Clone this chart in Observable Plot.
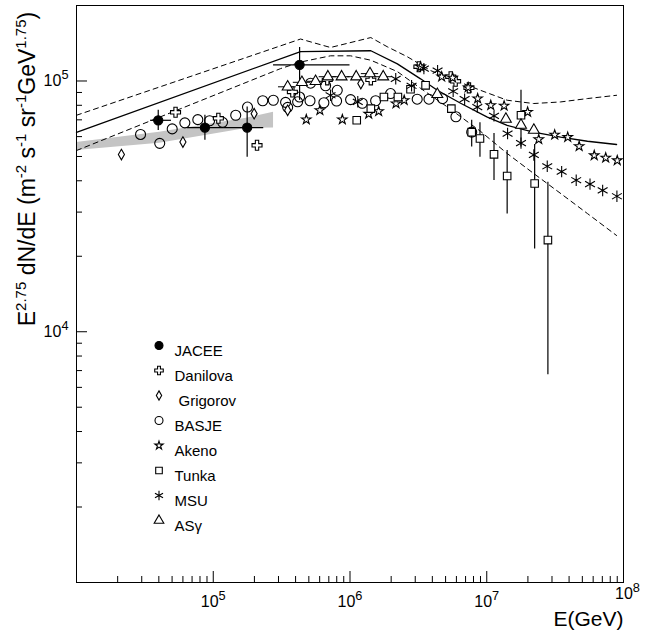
<!DOCTYPE html>
<html><head><meta charset="utf-8">
<script src="https://cdn.jsdelivr.net/npm/d3@7"></script>
<script src="https://cdn.jsdelivr.net/npm/@observablehq/plot@0.6"></script>
<style>
body{margin:0;background:#fff;}
#chart{position:relative;width:652px;height:633px;}
</style></head><body><div id="chart"></div>
<script>
// ---------- DATA (E in GeV, value = E^2.75 dN/dE) ----------
const jaceeE   = [3.96e4, 8.69e4, 1.77e5, 4.28e5];
const jaceeV   = [6.97e4, 6.52e4, 6.52e4, 1.16e5];
const jaceeVlo = [6.35e4, 5.8e4, 4.97e4, 8.37e4];
const jaceeVhi = [7.64e4, 7.3e4, 7.87e4, 1.36e5];
const jaceeElo = [3.48e4, 6.46e4, 1.2e5, 2.76e5];
const jaceeEhi = [4.95e4, 1.2e5, 2.34e5, 1.0e6];

const danilovaE = [5.3e4, 1.09e5, 2.09e5, 3.79e5, 6.82e5, 1.42e6, 3.19e6, 5.45e6, 5.92e6, 7.41e6];
const danilovaV = [7.5e4, 7.1e4, 5.54e4, 9.04e4, 1.01e5, 1.01e5, 1.14e5, 1.04e5, 9.97e4, 9.39e4];

const grigorovE = [2.13e4, 6.0e4, 1.99e5, 3.5e5, 1.2e6];
const grigorovV = [5.09e4, 5.71e4, 7.41e4, 7.64e4, 9.77e4];

const basjeE = [2.94e4, 4.06e4, 5.01e4, 6.2e4, 7.71e4, 9.4e4, 1.17e5, 1.46e5, 1.78e5, 2.3e5, 2.75e5, 3.38e5, 3.5e5, 4.14e5, 4.28e5, 5.1e5, 5.15e5, 6.44e5, 6.63e5, 7.98e5, 8.07e5, 1.01e6, 1.23e6, 1.54e6, 1.98e6, 3.1e6, 3.78e6, 4.75e6, 5.95e6, 7.76e6];
const basjeV = [6.12e4, 5.64e4, 6.44e4, 6.81e4, 7.01e4, 6.94e4, 6.84e4, 7.3e4, 7.87e4, 8.34e4, 8.38e4, 8.22e4, 7.85e4, 8.26e4, 8.63e4, 8.34e4, 9.8e4, 8.19e4, 9.57e4, 8.32e4, 9.18e4, 8.43e4, 8.15e4, 8.34e4, 8.91e4, 8.46e4, 8.46e4, 8.5e4, 7.2e4, 6.25e4];

const akenoE = [4.79e5, 6.02e5, 8.79e5, 1.37e6, 1.62e6, 2.17e6, 2.49e6, 3.28e6, 4.68e6, 5.63e6, 7.31e6, 8.58e6, 1.07e7, 1.34e7, 1.99e7, 2.4e7, 3.14e7, 3.91e7, 4.74e7, 6.11e7, 7.41e7, 9.0e7];
const akenoV = [7.02e4, 7.64e4, 7.02e4, 7.39e4, 7.57e4, 8.13e4, 8.38e4, 1.14e5, 1.04e5, 1.03e5, 9.42e4, 8.51e4, 8.0e4, 7.96e4, 7.52e4, 5.85e4, 6.1e4, 5.97e4, 5.49e4, 5.05e4, 4.94e4, 4.82e4];

const tunkaE  = [1.12e6, 1.42e6, 1.77e6, 2.24e6, 2.77e6, 3.57e6, 5.51e6, 7.76e6, 8.92e6, 1.13e7, 1.41e7, 1.78e7, 2.24e7, 2.8e7];
const tunkaV  = [6.97e4, 7.76e4, 8.63e4, 8.63e4, 9.27e4, 9.61e4, 7.76e4, 6.25e4, 5.9e4, 5.1e4, 4.18e4, 7.3e4, 3.9e4, 2.32e4];
const tunkaLo = [null, null, null, null, null, null, null, 5.45e4, 4.97e4, 4.01e4, 2.95e4, 5.45e4, 2.14e4, 6.73e3];
const tunkaHi = [null, null, null, null, null, null, null, 6.97e4, 6.81e4, 6.17e4, 5.28e4, 9.18e4, 5.58e4, 3.95e4];

const msuE = [7.21e5, 1.14e6, 2.16e6, 2.82e6, 3.47e6, 4.37e6, 5.68e6, 6.89e6, 8.53e6, 1.13e7, 1.42e7, 1.78e7, 2.21e7, 2.77e7, 3.53e7, 4.51e7, 5.69e7, 7.04e7, 8.95e7];
const msuV = [8.77e4, 8.26e4, 1.02e5, 9.57e4, 1.12e5, 1.1e5, 9.1e4, 8.46e4, 7.87e4, 7.26e4, 6.17e4, 5.65e4, 5.07e4, 4.57e4, 4.35e4, 4.02e4, 3.88e4, 3.66e4, 3.47e4];

const asgE   = [3.5e5, 4.45e5, 5.6e5, 6.89e5, 8.68e5, 1.11e6, 1.4e6, 1.75e6, 4.35e6, 1.38e7, 1.78e7, 2.21e7];
const asgV   = [9.48e4, 9.88e4, 9.97e4, 1.04e5, 1.04e5, 1.04e5, 1.07e5, 1.04e5, 8.85e4, 7.05e4, 6.67e4, 6.37e4];
const asgElo = [3.0e5, 3.85e5, 4.85e5, 5.95e5, 7.5e5, 9.6e5, 1.21e6, 1.51e6, null, null, null, null];
const asgEhi = [4.05e5, 5.15e5, 6.45e5, 7.95e5, 1.0e6, 1.28e6, 1.62e6, 2.02e6, null, null, null, null];

// model curves
const solidE = [1e4, 4.35e5, 1.42e6, 2.22e6, 3.28e6, 4.35e6, 6.44e6, 1.01e7, 1.41e7, 2.2e7, 3.47e7, 5.45e7, 8.9e7];
const solidV = [6.24e4, 1.31e5, 1.32e5, 1.17e5, 1.02e5, 9.18e4, 8.15e4, 7.18e4, 6.65e4, 6.25e4, 5.97e4, 5.75e4, 5.58e4];
const upperE = [1e4, 4.35e5, 7.2e5, 1.42e6, 1.87e6, 2.62e6, 3.89e6, 5.76e6, 9.0e6, 1.41e7, 2.2e7, 3.47e7, 5.45e7, 8.9e7];
const upperV = [7.3e4, 1.47e5, 1.36e5, 1.49e5, 1.37e5, 1.25e5, 1.10e5, 1.01e5, 9.18e4, 8.38e4, 8.13e4, 8.25e4, 8.51e4, 8.77e4];
const lowerE = [1e4, 3.1e5, 4.35e5, 7.2e5, 1.01e6, 1.42e6, 2.22e6, 3.28e6, 5.15e6, 9.0e6, 1.41e7, 2.2e7, 3.47e7, 5.45e7, 8.9e7];
const lowerV = [5.28e4, 1.12e5, 1.19e5, 1.26e5, 1.26e5, 1.21e5, 1.09e5, 9.35e4, 7.88e4, 6.3e4, 5.14e4, 4.28e4, 3.56e4, 2.96e4, 2.42e4];

// shaded band (direct measurements)
const bandE  = [1e4, 4.05e4, 1.75e5, 2.76e5];
const bandLo = [5.28e4, 5.64e4, 6.47e4, 6.5e4];
const bandHi = [5.69e4, 6.24e4, 7.1e4, 7.5e4];

// axes
const xLabelTicks = [1e5, 1e6, 1e7];
const xLastLabelTick = [1e8];
const yLabelTicks = [1e4, 1e5];
const xMajorTicks = [1e4, 1e5, 1e6, 1e7, 1e8];
const yMajorTicks = [1e3, 1e4, 1e5];
const xDecades = [4, 5, 6, 7];
const yDecades = [3, 4, 5];
const minorMult = [2, 3, 4, 5, 6, 7, 8, 9];

const seriesNames = ["JACEE", "Danilova", "Grigorov", "BASJE", "Akeno", "Tunka", "MSU", "ASγ"];

// ---------- BUILD ----------
const pts = (E, V) => E.map((e, i) => ({e, v: V[i]}));
const xMinorTicks = xDecades.flatMap(k => minorMult.map(m => m * 10 ** k));
const yMinorTicks = yDecades.flatMap(k => minorMult.map(m => m * 10 ** k)).filter(v => v <= 2e5);

const expFmt = d => "10^" + Math.round(Math.log10(d));

const jacee = jaceeE.map((e, i) => ({e, v: jaceeV[i], lo: jaceeVlo[i], hi: jaceeVhi[i], elo: jaceeElo[i], ehi: jaceeEhi[i]}));
const tunka = tunkaE.map((e, i) => ({e, v: tunkaV[i], lo: tunkaLo[i], hi: tunkaHi[i]}));
const asg = asgE.map((e, i) => ({e, v: asgV[i], elo: asgElo[i], ehi: asgEhi[i]}));
const band = bandE.map((e, i) => ({e, lo: bandLo[i], hi: bandHi[i]}));

const W = 652, H = 633, mL = 76, mR = 29, mT = 5, mB = 51;
const frameW = W - mL - mR, frameH = H - mT - mB;

const styles = {
  "JACEE":    {symbol: "circle", fill: "black", stroke: "black", r: 4.6, lr: 4},
  "Danilova": {symbol: "cross", fill: "white", stroke: "black", r: 4.2, lr: 3.6},
  "Grigorov": {symbol: "diamond", fill: "white", stroke: "black", r: 3.2, lr: 2.8},
  "BASJE":    {symbol: "circle", fill: "none", stroke: "black", r: 5, lr: 4},
  "Akeno":    {symbol: "star", fill: "white", stroke: "black", r: 3.0, lr: 2.6},
  "Tunka":    {symbol: "square2", fill: "white", stroke: "black", r: 4.8, lr: 4.2},
  "MSU":      {symbol: "asterisk", fill: "none", stroke: "black", r: 5.4, lr: 4.4},
  "ASγ":      {symbol: "triangle2", fill: "white", stroke: "black", r: 5.2, lr: 4.6}
};
const dotOpts = (name) => {
  const s = styles[name];
  return {x: "e", y: "v", symbol: s.symbol, fill: s.fill, stroke: s.stroke, r: s.r, strokeWidth: 1.1};
};

const legendMarks = seriesNames.flatMap((name, i) => {
  const s = styles[name];
  return [
    Plot.dot([name], {frameAnchor: "top-left", dx: 82.5, dy: 340 + 25 * i, symbol: s.symbol, fill: s.fill, stroke: s.stroke, r: s.lr, strokeWidth: 1.1}),
    Plot.text([name], {frameAnchor: "top-left", dx: name === "Grigorov" ? 102 : 98, dy: 340 + 25 * i, text: d => d, textAnchor: "start", fontSize: 15})
  ];
});

const plot = Plot.plot({
  width: W, height: H,
  marginLeft: mL, marginRight: mR, marginTop: mT, marginBottom: mB,
  x: {type: "log", domain: [1e4, 1e8], label: null},
  y: {type: "log", domain: [1e3, 2e5], label: null},
  style: {fontFamily: "'Liberation Sans', Arial, sans-serif", fontSize: "15px", color: "#000", background: "#fff", overflow: "visible"},
  marks: [
    // band
    Plot.areaY(band, {x: "e", y1: "lo", y2: "hi", fill: "#c4c4c4"}),
    // model curves
    Plot.line(pts(upperE, upperV), {x: "e", y: "v", stroke: "black", strokeWidth: 1, strokeDasharray: "5,4"}),
    Plot.line(pts(lowerE, lowerV), {x: "e", y: "v", stroke: "black", strokeWidth: 1, strokeDasharray: "5,4"}),
    Plot.line(pts(solidE, solidV), {x: "e", y: "v", stroke: "black", strokeWidth: 1.3}),
    // error bars
    Plot.ruleX(jacee, {x: "e", y1: "lo", y2: "hi", stroke: "black", strokeWidth: 1.2}),
    Plot.ruleY(jacee, {y: "v", x1: "elo", x2: "ehi", stroke: "black", strokeWidth: 1.2}),
    Plot.ruleX(tunka, {x: "e", y1: "lo", y2: "hi", stroke: "black", strokeWidth: 1.2}),
    Plot.ruleY(asg, {y: "v", x1: "elo", x2: "ehi", stroke: "black", strokeWidth: 1}),
    // points
    Plot.dot(pts(basjeE, basjeV), dotOpts("BASJE")),
    Plot.dot(pts(grigorovE, grigorovV), dotOpts("Grigorov")),
    Plot.dot(pts(danilovaE, danilovaV), dotOpts("Danilova")),
    Plot.dot(pts(akenoE, akenoV), dotOpts("Akeno")),
    Plot.dot(tunka, dotOpts("Tunka")),
    Plot.dot(pts(msuE, msuV), dotOpts("MSU")),
    Plot.dot(asg, dotOpts("ASγ")),
    Plot.dot(jacee, dotOpts("JACEE")),
    // ticks (inward)
    Plot.tickX(xMinorTicks, {x: d => d, insetTop: frameH - 6, stroke: "black"}),
    Plot.tickX(xMajorTicks, {x: d => d, insetTop: frameH - 11, stroke: "black"}),
    Plot.tickY(yMinorTicks, {y: d => d, insetRight: frameW - 6, stroke: "black"}),
    Plot.tickY(yMajorTicks, {y: d => d, insetRight: frameW - 11, stroke: "black"}),
    // tick labels
    Plot.axisX({ticks: xLabelTicks, tickSize: 0, tickPadding: 13, tickFormat: expFmt, fontSize: 16, label: null}),
    Plot.axisX({ticks: xLastLabelTick, tickSize: 0, tickPadding: 5, tickFormat: expFmt, fontSize: 16, label: null, dx: 4}),
    Plot.axisY({ticks: yLabelTicks, tickSize: 0, tickPadding: 8, tickFormat: expFmt, fontSize: 16, label: null}),
    Plot.frame({stroke: "black", strokeWidth: 1}),
    // x label
    Plot.text(["E(GeV)"], {frameAnchor: "bottom-right", text: d => d, dy: 43, textAnchor: "end", lineAnchor: "bottom", fontSize: 21}),
    ...legendMarks
  ]
});

// turn "10^k" tick labels into 10 with a raised exponent
d3.select(plot).selectAll("text").each(function () {
  const el = d3.select(this);
  const tspans = el.selectAll("tspan");
  const target = tspans.size() ? tspans : el;
  target.each(function () {
    const node = d3.select(this);
    const txt = node.text();
    if (/^10\^-?\d+$/.test(txt)) {
      const ex = txt.split("^")[1];
      node.text("10");
      node.append("tspan").attr("dy", "-0.55em").attr("font-size", "0.8em").text(ex);
    }
  });
});

// y-axis title with superscripts
const ylab = d3.select(plot).append("text")
  .attr("transform", "translate(35,169) rotate(-90)")
  .attr("text-anchor", "middle")
  .attr("font-size", 23)
  .attr("font-family", "'Liberation Sans', Arial, sans-serif")
  .attr("fill", "black");
const parts = [["E", 0], ["2.75", 1], [" dN/dE (m", 0], ["-2", 1], [" s", 0], ["-1", 1], [" sr", 0], ["-1", 1], ["GeV", 0], ["1.75", 1], [")", 0]];
let prevSup = 0;
for (const [t, s] of parts) {
  const ts = ylab.append("tspan").text(t);
  if (s) { ts.attr("font-size", 15).attr("dy", prevSup ? 0 : -9); }
  else { ts.attr("dy", prevSup ? 9 : 0); }
  prevSup = s;
}

document.getElementById("chart").appendChild(plot);
</script>
</body></html>
